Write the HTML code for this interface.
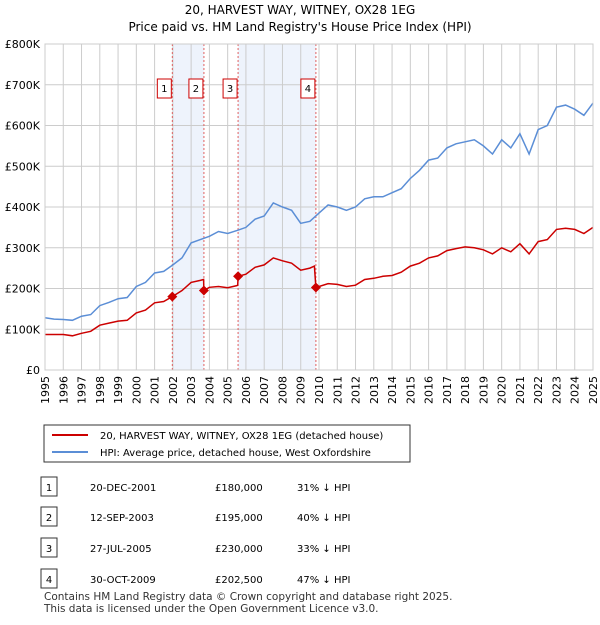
<!DOCTYPE html>
<html><head><meta charset="utf-8"><style>
body{margin:0;background:#fff;font-family:"Liberation Sans","DejaVu Sans",sans-serif;}
svg text{font-family:"DejaVu Sans","Liberation Sans",sans-serif;}
</style></head><body>
<svg width="600" height="620" viewBox="0 0 600 620" xmlns="http://www.w3.org/2000/svg">
<text x="300" y="14" text-anchor="middle" font-size="12">20, HARVEST WAY, WITNEY, OX28 1EG</text>
<text x="300" y="31" text-anchor="middle" font-size="12">Price paid vs. HM Land Registry's House Price Index (HPI)</text>
<g id="plot"></g>
<g>
<rect x="44" y="425" width="366" height="37" fill="#fff" stroke="#333" stroke-width="1"/>
<line x1="52" y1="435" x2="88" y2="435" stroke="#cc0000" stroke-width="2"/>
<text x="100" y="439" font-size="10">20, HARVEST WAY, WITNEY, OX28 1EG (detached house)</text>
<line x1="52" y1="452" x2="88" y2="452" stroke="#5b8ed6" stroke-width="2"/>
<text x="100" y="456" font-size="10">HPI: Average price, detached house, West Oxfordshire</text>
</g>
<g id="table" font-size="10"></g>
<text x="44" y="600" font-size="10.5" fill="#333">Contains HM Land Registry data © Crown copyright and database right 2025.</text>
<text x="44" y="612" font-size="10.5" fill="#333">This data is licensed under the Open Government Licence v3.0.</text>
</svg>
<script>
const yTicks=[0,100,200,300,400,500,600,700,800];
const xYears=[1995,1996,1997,1998,1999,2000,2001,2002,2003,2004,2005,2006,2007,2008,2009,2010,2011,2012,2013,2014,2015,2016,2017,2018,2019,2020,2021,2022,2023,2024,2025];
const hpiT=[1995,1995.5,1996,1996.5,1997,1997.5,1998,1998.5,1999,1999.5,2000,2000.5,2001,2001.5,2002,2002.5,2003,2003.5,2004,2004.5,2005,2005.5,2006,2006.5,2007,2007.5,2008,2008.5,2009,2009.5,2010,2010.5,2011,2011.5,2012,2012.5,2013,2013.5,2014,2014.5,2015,2015.5,2016,2016.5,2017,2017.5,2018,2018.5,2019,2019.5,2020,2020.5,2021,2021.5,2022,2022.5,2023,2023.5,2024,2024.5,2025];
const hpiV=[128,125,124,122,132,136,158,166,175,178,205,215,238,242,258,275,312,320,328,340,335,342,350,370,378,410,400,392,360,365,385,405,400,392,400,420,425,425,435,445,470,490,515,520,545,555,560,565,550,530,565,545,580,530,590,600,645,650,640,625,655];
const ppT=[1995,1995.5,1996,1996.5,1997,1997.5,1998,1998.5,1999,1999.5,2000,2000.5,2001,2001.5,2001.97,2002.5,2003,2003.5,2003.68,2003.7,2004,2004.5,2005,2005.5,2005.55,2005.57,2006,2006.5,2007,2007.5,2008,2008.5,2009,2009.5,2009.75,2009.83,2010.5,2011,2011.5,2012,2012.5,2013,2013.5,2014,2014.5,2015,2015.5,2016,2016.5,2017,2017.5,2018,2018.5,2019,2019.5,2020,2020.5,2021,2021.5,2022,2022.5,2023,2023.5,2024,2024.5,2025];
const ppV=[87,87,87,84,90,95,110,115,120,122,140,147,165,168,180,195,215,220,222,195,203,205,202,207,208,230,235,252,258,275,268,262,245,250,255,202.5,212,210,205,208,222,225,230,232,240,255,262,275,280,293,298,302,300,295,285,300,290,310,285,315,320,345,348,345,335,350];
const saleT=[2001.97,2003.7,2005.57,2009.83];
const saleV=[180,195,230,202.5];
const saleLabels=["1","2","3","4"];
const saleDates=["20-DEC-2001","12-SEP-2003","27-JUL-2005","30-OCT-2009"];
const salePrices=["£180,000","£195,000","£230,000","£202,500"];
const saleHpi=["31% ↓ HPI","40% ↓ HPI","33% ↓ HPI","47% ↓ HPI"];
const NS="http://www.w3.org/2000/svg";
const X0=45,X1=593,Y0=370,Y1=44;
const xs=t=>X0+(t-1995)/30*(X1-X0);
const ys=v=>Y0-v/800*(Y0-Y1);
function mk(tag,attrs,parent){const e=document.createElementNS(NS,tag);for(const k in attrs)e.setAttribute(k,attrs[k]);parent.appendChild(e);return e;}
const g=document.getElementById('plot');
// shading
for(const [a,b] of [[0,1],[2,3]]){
 const r=mk('rect',{x:xs(saleT[a]),y:Y1,width:xs(saleT[b])-xs(saleT[a]),height:Y0-Y1,fill:'#eef3fc'},g);
 
 
}
xYears.forEach(y=>{
 const l=mk('line',{x1:xs(y),x2:xs(y),y1:Y1,y2:Y0,stroke:'#ccc','stroke-width':1},g);
 
 
 const t=mk('text',{x:0,y:0,'font-size':11,'text-anchor':'end',transform:`translate(${xs(y)+4},${Y0+6}) rotate(-90)`},g);
 t.textContent=y;
 
 
});
yTicks.forEach(v=>{
 const l=mk('line',{x1:X0,x2:X1,y1:ys(v),y2:ys(v),stroke:'#ccc','stroke-width':1},g);
 
 
 const t=mk('text',{x:40,y:ys(v)+4,'font-size':11,'text-anchor':'end'},g);
 t.textContent=v===0?'£0':'£'+v+'K';
 
 
});
saleT.forEach((t,i)=>{
 const l=mk('line',{x1:xs(t),x2:xs(t),y1:Y1,y2:Y0,stroke:'#e06060','stroke-width':1,'stroke-dasharray':'2,2'},g);
 
 
});
const path=(T,V)=>T.map((t,i)=>(i?'L':'M')+xs(t).toFixed(1)+','+ys(V[i]).toFixed(1)).join('');
const h=mk('path',{d:path(hpiT,hpiV),fill:'none',stroke:'#5b8ed6','stroke-width':1.5},g);


const p=mk('path',{d:path(ppT,ppV),fill:'none',stroke:'#cc0000','stroke-width':1.5},g);


saleT.forEach((t,i)=>{
 const cx=xs(t),cy=ys(saleV[i]);
 const d=mk('path',{d:`M${cx},${cy-5}L${cx+5},${cy}L${cx},${cy+5}L${cx-5},${cy}Z`,fill:'#cc0000'},g);
 
 
 const b=mk('rect',{x:cx-15,y:79,width:14,height:19,fill:'#fff',stroke:'#cc0000'},g);
 
 
 const tx=mk('text',{x:cx-8,y:92,'font-size':10,'text-anchor':'middle'},g);
 tx.textContent=saleLabels[i];
 
 
});
const fr=mk('rect',{x:X0,y:Y1,width:X1-X0,height:Y0-Y1,fill:'none',stroke:'#ccc'},g);


const tb=document.getElementById('table');
const rowsY=[487,517,548,579];
saleLabels.forEach((s,i)=>{
 const y=rowsY[i];
 const r=mk('rect',{x:41,y:y-10,width:16,height:19,fill:'#fff',stroke:'#333'},tb);
 
 
 const cells=[[49,s,'middle'],[90,saleDates[i],'start'],[215,salePrices[i],'start'],[297,saleHpi[i],'start']];
 cells.forEach(c=>{
  const t=mk('text',{x:c[0],y:y+4,'text-anchor':c[2]},tb);
  t.textContent=c[1];
  
  
 });
});
</script>
</body></html>
